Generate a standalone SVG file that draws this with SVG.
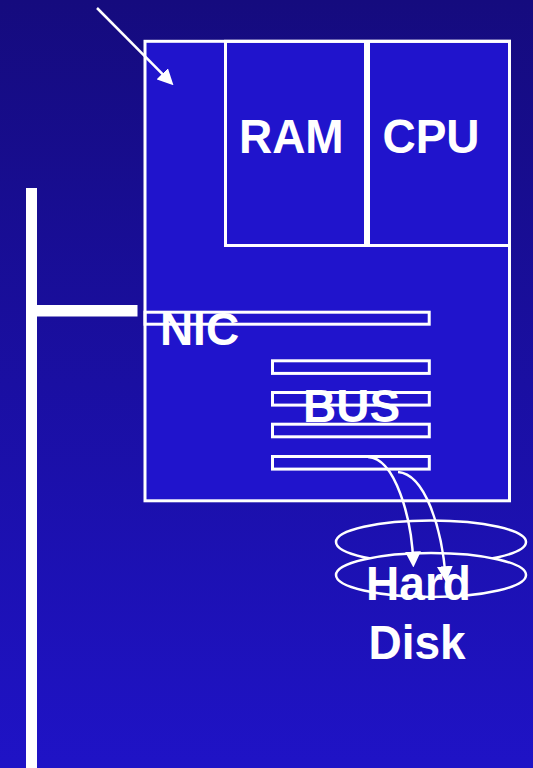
<svg xmlns="http://www.w3.org/2000/svg" width="533" height="768" viewBox="0 0 533 768">
  <defs>
    <linearGradient id="bg" gradientUnits="userSpaceOnUse" x1="0" y1="0" x2="0" y2="768">
      <stop offset="0" stop-color="#150b7e"/>
      <stop offset="1" stop-color="#1f13c6"/>
    </linearGradient>
    <marker id="ah" markerUnits="userSpaceOnUse" markerWidth="16" markerHeight="16" refX="12.5" refY="8" orient="auto">
      <path d="M0,0 L16,8 L0,16 z" fill="#ffffff"/>
    </marker>
  </defs>
  <style>
    .ln { fill: none; stroke: #ffffff; stroke-width: 3; }
    .thin { fill: none; stroke: #ffffff; stroke-width: 2.5; }
    .lbl { font-family: "Liberation Sans", Arial, sans-serif; font-weight: bold; font-size: 46px; fill: #ffffff; text-anchor: middle; }
    .wire { fill: #ffffff; }
  </style>

  <rect x="0" y="0" width="533" height="768" fill="url(#bg)"/>

  <g id="network">
    <rect class="wire" x="26" y="188" width="11" height="580"/>
    <rect class="wire" x="36" y="305" width="101.5" height="11.5"/>
  </g>

  <g id="computer">
    <rect x="145" y="41.3" width="364.5" height="459.5" fill="#2014cc" stroke="#ffffff" stroke-width="3"/>
  </g>

  <g id="ram">
    <rect class="ln" x="225.5" y="41.3" width="140" height="204.2"/>
    <text class="lbl" transform="translate(291.3,153) scale(1,1.06)">RAM</text>
  </g>

  <g id="cpu">
    <rect class="ln" x="368.5" y="41.3" width="141" height="204.2"/>
    <text class="lbl" transform="translate(431,153) scale(1,1.06)">CPU</text>
  </g>

  <g id="nic">
    <rect class="ln" x="145" y="312.2" width="284.2" height="12"/>
    <text class="lbl" x="199.5" y="345">NIC</text>
  </g>

  <g id="bus">
    <rect class="ln" x="272.5" y="360.8" width="156.8" height="12.6"/>
    <rect class="ln" x="272.5" y="392.5" width="156.8" height="12.6"/>
    <rect class="ln" x="272.5" y="424.2" width="156.8" height="12.6"/>
    <rect class="ln" x="272.5" y="456.5" width="156.8" height="12.6"/>
    <text class="lbl" x="351.5" y="421.5">BUS</text>
  </g>

  <g id="harddisk">
    <ellipse class="thin" cx="431" cy="542" rx="95" ry="21.5"/>
    <ellipse cx="431" cy="575" rx="95" ry="22" fill="url(#bg)" stroke="#ffffff" stroke-width="2.5"/>
  </g>

  <g id="connectors">
    <path class="thin" d="M97,8 L171,82.7" marker-end="url(#ah)"/>
    <path class="thin" d="M368,457 C395,458 412,518 413.3,564" marker-end="url(#ah)"/>
    <path class="thin" d="M398,472 C425,474 442,528 445.8,578.7" marker-end="url(#ah)"/>
  </g>

  <g id="harddisk-label">
    <text class="lbl" transform="translate(418.5,599.5) scale(1,1.05)">Hard</text>
    <text class="lbl" transform="translate(417,658.5) scale(1,1.04)">Disk</text>
  </g>
</svg>
